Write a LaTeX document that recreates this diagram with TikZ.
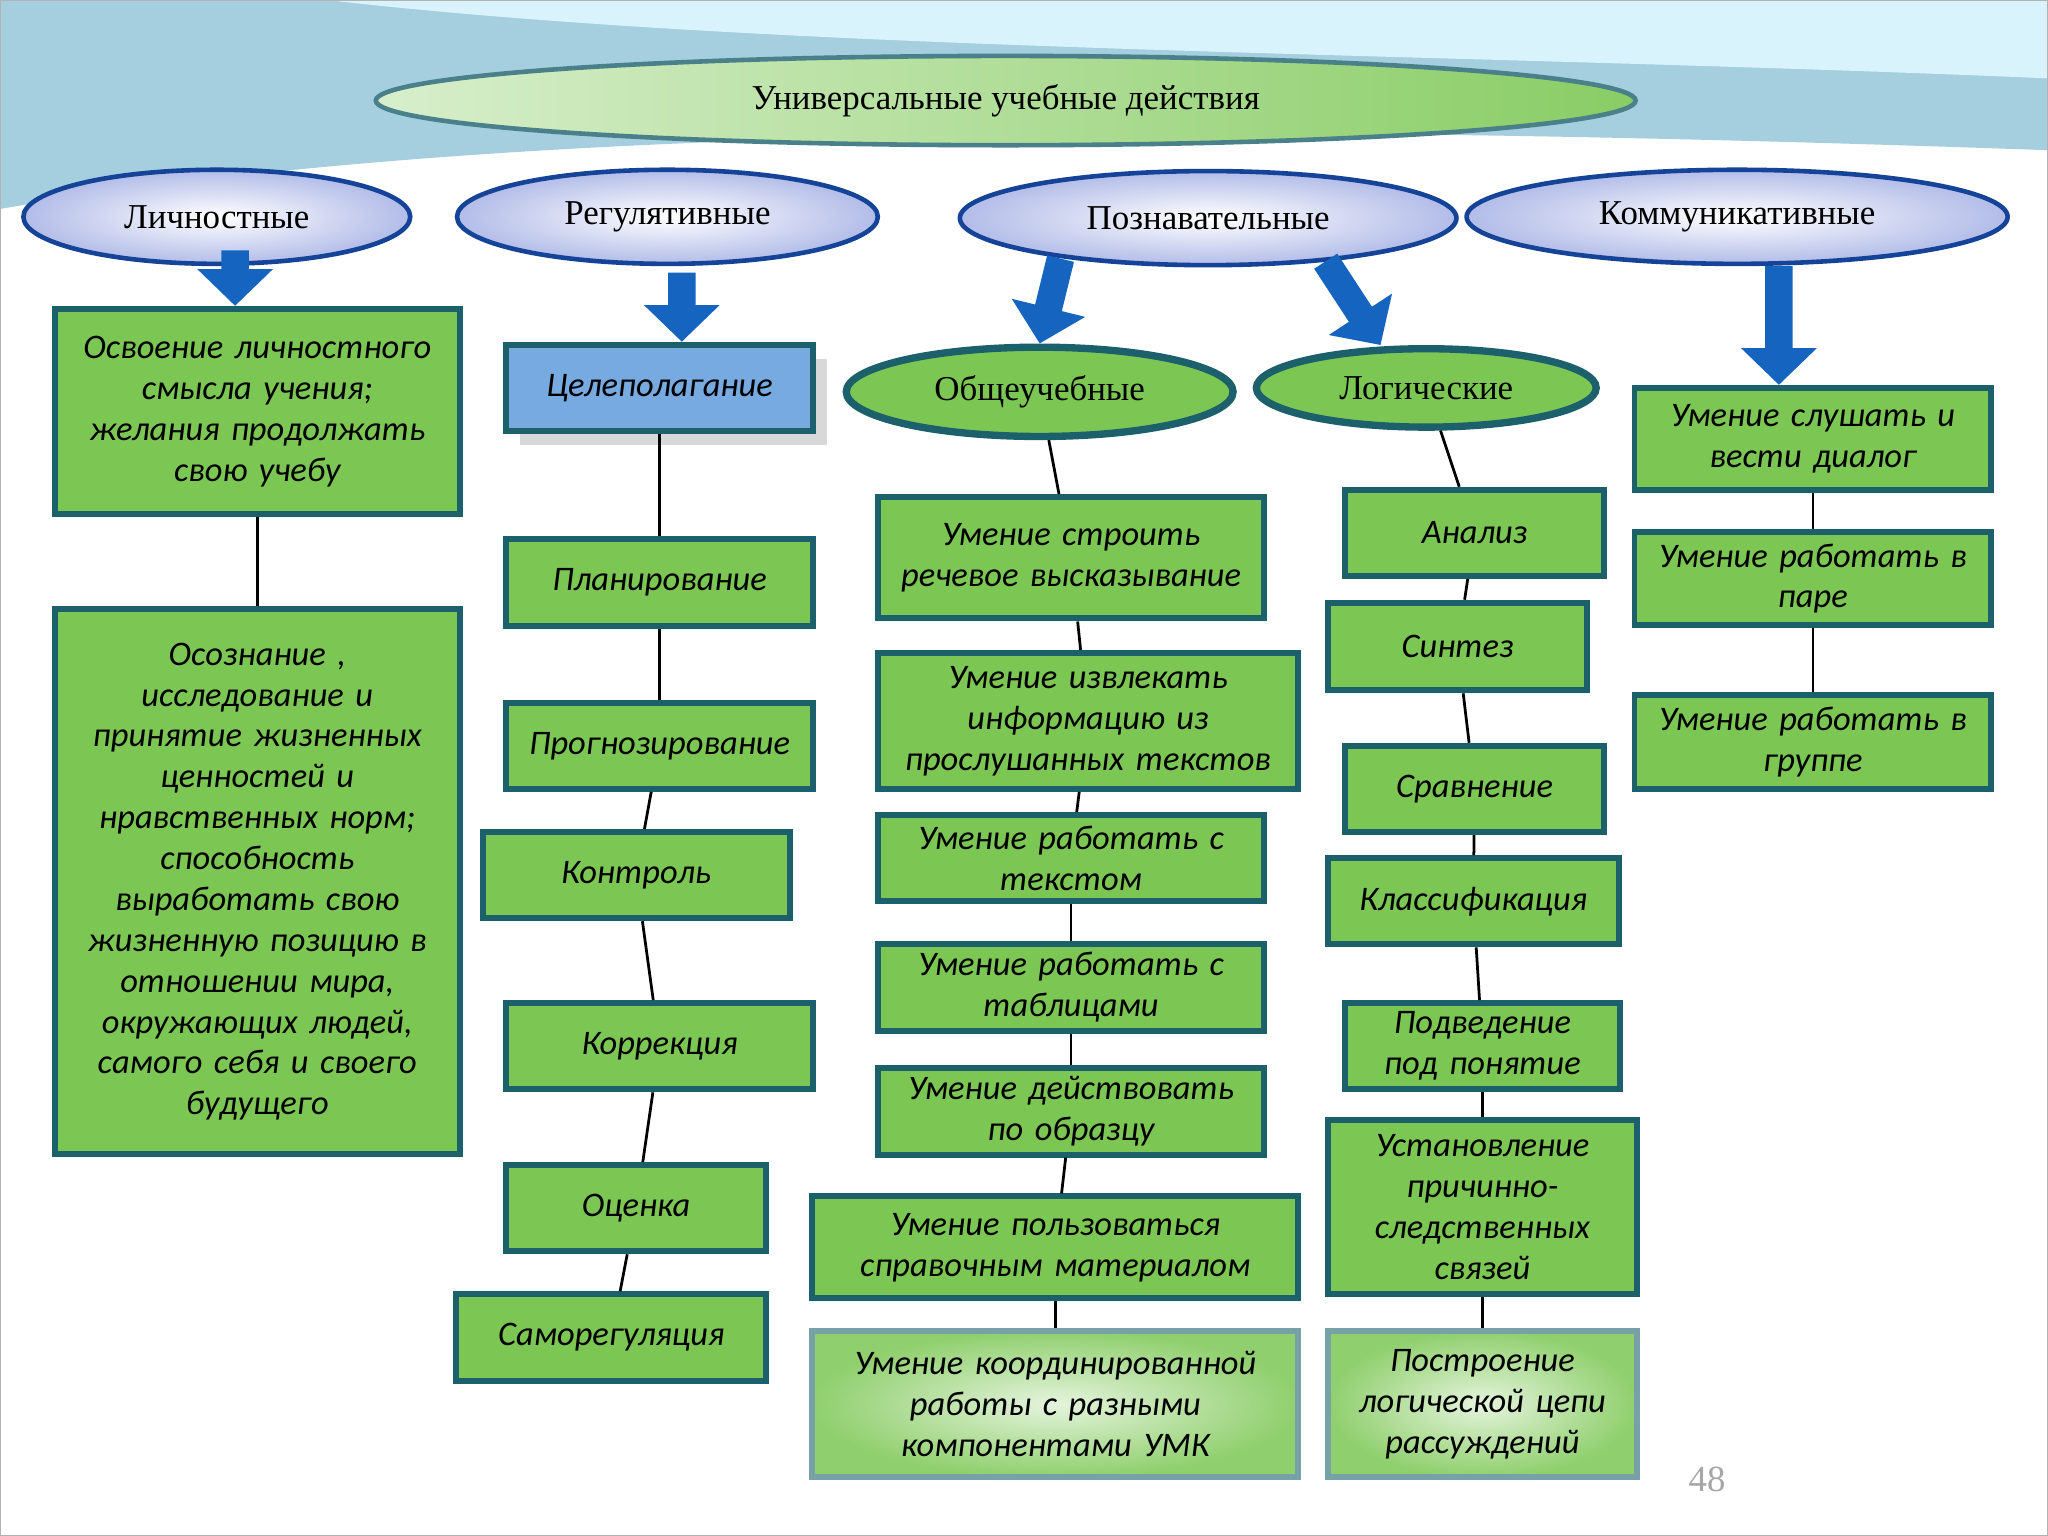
\documentclass[tikz,border=0pt]{standalone}
\usepackage{fontspec}
\setmainfont{Liberation Serif}
\newfontfamily\boxfont{Carlito}
\usetikzlibrary{positioning,arrows.meta,shapes.geometric,shadows}
\definecolor{ugreen}{RGB}{124,199,84}
\definecolor{uedge}{RGB}{28,96,108}
\definecolor{ublue}{RGB}{21,101,192}
\definecolor{ulav}{RGB}{178,188,232}
\tikzset{
  box/.style={draw=uedge, line width=1.3pt, fill=ugreen, align=center,
    font=\boxfont\itshape\fontsize{7.5}{8.9}\selectfont, inner sep=1pt},
  oval/.style={ellipse, draw=uedge!70!blue, line width=1pt, inner color=white,
    outer color=ulav, font=\fontsize{7.6}{9}\selectfont},
  goval/.style={ellipse, draw=uedge, line width=1.6pt, fill=ugreen,
    font=\fontsize{7.6}{9}\selectfont},
  link/.style={black, line width=0.6pt},
  bigarrow/.style={ublue, line width=6pt, -{Triangle[width=16pt,length=8pt]}}
}
\begin{document}
\begin{tikzpicture}[x=0.01cm,y=-0.01cm]
    % Background and top swoosh
    \fill[white] (0,0) rectangle (1568,1176);
    \useasboundingbox (0,0) rectangle (1568,1176);
    \fill[cyan!35!teal!40] (0,0) -- (1568,0) -- (1568,115)
        .. controls (1000,95) and (400,90) .. (0,160) -- cycle;
    \fill[cyan!15] (250,0) -- (1568,0) -- (1568,60)
        .. controls (1100,40) and (600,40) .. (250,0) -- cycle;
    \draw[gray!60] (0,0) rectangle (1568,1176);

    % Title and groups
    \node[ellipse, draw=uedge!80, line width=1pt, left color=ugreen!30,
        right color=ugreen!90, minimum width=9.64cm, minimum height=0.54cm,
        font=\fontsize{7.6}{9}\selectfont] (uud) at (770,77)
        {Универсальные учебные действия};
    \node[oval, minimum width=2.96cm, minimum height=0.72cm] (lich) at (166,166) {Личностные};
    \node[oval, minimum width=3.22cm, minimum height=0.72cm] (reg) at (511,166) {Регулятивные};
    \node[oval, minimum width=3.8cm, minimum height=0.72cm] (poz) at (925,167) {Познавательные};
    \node[oval, minimum width=4.14cm, minimum height=0.72cm] (kom) at (1330,166) {Коммуникативные};
    \node[goval, minimum width=2.96cm, minimum height=0.6cm] (obsh) at (796,300) {Общеучебные};
    \node[goval, minimum width=2.6cm, minimum height=0.6cm] (log) at (1092,297) {Логические};

    % Личностные
    \node[box, minimum width=3.1cm, minimum height=1.57cm, text width=2.9cm] (L1) at (197,315)
        {Освоение личностного\\ смысла учения;\\ желания продолжать\\ свою учебу};
    \node[box, minimum width=3.1cm, minimum height=4.17cm, text width=2.9cm] (L2) at (197,675)
        {Осознание ,\\ исследование и\\ принятие жизненных\\ ценностей и\\ нравственных норм;\\ способность\\ выработать свою\\ жизненную позицию в\\ отношении мира,\\ окружающих людей,\\ самого себя и своего\\ будущего};

    % Регулятивные
    \node[box, fill=cyan!60!blue!55, drop shadow={fill=gray!60, shadow xshift=3pt, shadow yshift=-3pt},
        minimum width=2.35cm, minimum height=0.66cm] (R0) at (505,297) {Целеполагание};
    \node[box, minimum width=2.35cm, minimum height=0.67cm] (R1) at (505,446) {Планирование};
    \node[box, minimum width=2.35cm, minimum height=0.66cm] (R2) at (505,571) {Прогнозирование};
    \node[box, minimum width=2.35cm, minimum height=0.66cm] (R3) at (487,670) {Контроль};
    \node[box, minimum width=2.35cm, minimum height=0.66cm] (R4) at (505,801) {Коррекция};
    \node[box, minimum width=1.99cm, minimum height=0.66cm] (R5) at (487,925) {Оценка};
    \node[box, minimum width=2.37cm, minimum height=0.66cm] (R6) at (468,1024) {Саморегуляция};

    % Общеучебные
    \node[box, minimum width=2.96cm, minimum height=0.93cm, text width=2.8cm] (O1) at (820,427) {Умение строить речевое высказывание};
    \node[box, minimum width=3.22cm, minimum height=1.04cm, text width=3.1cm] (O2) at (833,552) {Умение извлекать информацию из прослушанных текстов};
    \node[box, minimum width=2.96cm, minimum height=0.66cm, text width=2.85cm] (O3) at (820,657) {Умение работать с\\ текстом};
    \node[box, minimum width=2.96cm, minimum height=0.66cm, text width=2.85cm] (O4) at (820,756) {Умение работать с\\ таблицами};
    \node[box, minimum width=2.96cm, minimum height=0.66cm, text width=2.7cm] (O5) at (820,851) {Умение действовать по образцу};
    \node[box, minimum width=3.72cm, minimum height=0.78cm, text width=3.5cm] (O6) at (808,955) {Умение пользоваться справочным материалом};
    \node[box, inner color=ugreen!20, outer color=ugreen!85, draw=uedge!60, minimum width=3.72cm,
        minimum height=1.12cm, text width=3.3cm] (O7) at (808,1075) {Умение координированной работы с разными компонентами УМК};

    % Логические
    \node[box, minimum width=1.98cm, minimum height=0.66cm] (G1) at (1129,408) {Анализ};
    \node[box, minimum width=1.98cm, minimum height=0.67cm] (G2) at (1116,495) {Синтез};
    \node[box, minimum width=1.98cm, minimum height=0.66cm] (G3) at (1129,604) {Сравнение};
    \node[box, minimum width=2.23cm, minimum height=0.66cm] (G4) at (1128,690) {Классификация};
    \node[box, minimum width=2.1cm, minimum height=0.66cm, text width=1.9cm] (G5) at (1135,801) {Подведение под понятие};
    \node[box, minimum width=2.36cm, minimum height=1.33cm, text width=1.9cm] (G6) at (1135,924) {Установление причинно-следственных связей};
    \node[box, inner color=ugreen!20, outer color=ugreen!85, draw=uedge!60, minimum width=2.36cm,
        minimum height=1.12cm, text width=2.1cm] (G7) at (1135,1075) {Построение логической цепи рассуждений};

    % Коммуникативные
    \node[box, minimum width=2.73cm, minimum height=0.78cm, text width=2.6cm] (K1) at (1388,336) {Умение слушать и\\ вести диалог};
    \node[box, minimum width=2.73cm, minimum height=0.71cm, text width=2.6cm] (K2) at (1388,443) {Умение работать в\\ паре};
    \node[box, minimum width=2.73cm, minimum height=0.72cm, text width=2.6cm] (K3) at (1388,568) {Умение работать в\\ группе};

    % Block arrows
    \coordinate (pa) at (812,198);
    \coordinate (pb) at (1015,200);
    \draw[bigarrow] ([xshift=0.14cm, yshift=0.12cm]lich.south) -- ([xshift=-0.17cm]L1.north);
    \draw[bigarrow] ([xshift=0.11cm, yshift=-0.05cm]reg.south) -- ([xshift=0.17cm]R0.north);
    \draw[bigarrow] (pa) -- (obsh.north);
    \draw[bigarrow] (pb) -- ([xshift=-0.35cm]log.north);
    \draw[bigarrow] ([xshift=0.32cm]kom.south) -- ([xshift=-0.26cm]K1.north);

    % Links
    \foreach \a/\b in {L1/L2, R0/R1, R1/R2, R2/R3, R3/R4, R4/R5, R5/R6,
        obsh/O1, O1/O2, O2/O3, O3/O4, O4/O5, O5/O6, O6/O7,
        log/G1, G1/G2, G2/G3, G3/G4, G4/G5, G5/G6, G6/G7, K1/K2, K2/K3}
        \draw[link] (\a) -- (\b);

    \node[gray!70, font=\fontsize{8}{9}\selectfont] (pnum) at (1307,1133) {48};
\end{tikzpicture}
\end{document}
